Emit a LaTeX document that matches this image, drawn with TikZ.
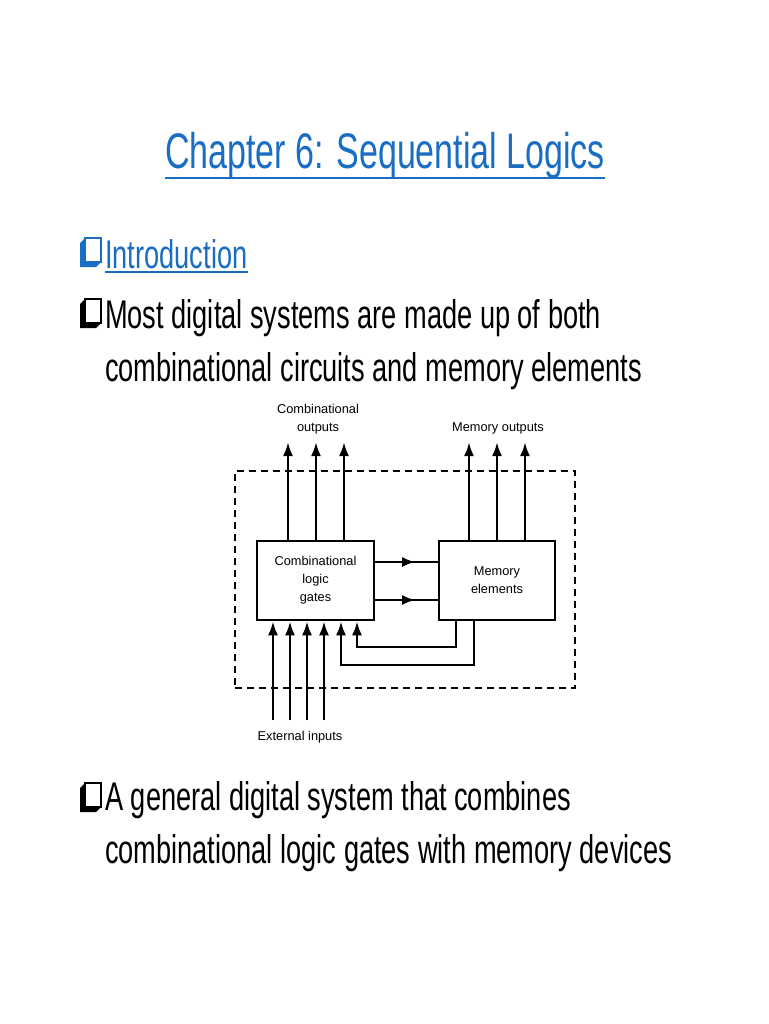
\documentclass[tikz,border=0pt]{standalone}
\usepackage{fontspec}
\setmainfont{Liberation Sans}
\newfontfamily\slidefont[FakeStretch=0.68]{Liberation Sans}
\usetikzlibrary{arrows.meta,decorations.markings}
\definecolor{linkblue}{RGB}{25,110,195}

\begin{document}
\begin{tikzpicture}[x=1pt, y=-1pt,
  slidetext/.style={anchor=base west, inner sep=0pt, font=\slidefont\fontsize{40}{48}\selectfont},
  figtext/.style={font=\fontsize{12.8}{18}\selectfont, align=center, inner sep=0pt},
  block/.style={draw, line width=2.6pt, fill=white, figtext, minimum width=117pt, minimum height=79pt},
  wire/.style={line width=2.6pt},
  arrowwire/.style={wire, -{Latex[length=14pt,width=10pt]}},
  midarrow/.style={wire, decoration={markings, mark=at position 0.64 with {\arrow{Latex[length=13pt,width=10pt]}}}, postaction={decorate}},
  pics/qbullet/.style={code={
    \fill[#1] (5,-29) -- (0,-24) -- (0,0) -- (16,0) -- (21,-5) -- (5,-5) -- cycle;
    \draw[#1, fill=white, line width=2pt] (5,-29) rectangle (21,-5);
  }}
]

  % -- Page --
  \fill[white] (0,0) rectangle (768,1024);
  \useasboundingbox (0,0) rectangle (768,1024);

  % -- Title --
  \node[slidetext, font=\slidefont\fontsize{50}{60}\selectfont, text=linkblue] (title) at (165,169) {Chapter 6: Sequential Logics};
  \draw[linkblue, line width=2.5pt] ([yshift=-9pt]title.base west) -- ([yshift=-9pt]title.base east);

  % -- Bullets --
  \pic at (80,267) {qbullet=linkblue};
  \node[slidetext, text=linkblue] (intro) at (105,268) {Introduction};
  \draw[linkblue, line width=2pt] ([yshift=-4pt]intro.base west) -- ([yshift=-4pt]intro.base east);

  \pic at (80,328) {qbullet=black};
  \node[slidetext] (most1) at (105,328) {Most digital systems are made up of both};
  \node[slidetext] (most2) at (105,381) {combinational circuits and memory elements};

  \pic at (80,812) {qbullet=black};
  \node[slidetext] (gen1) at (105,810) {A general digital system that combines};
  \node[slidetext] (gen2) at (105,863) {combinational logic gates with memory devices};

  % -- Diagram --
  \node[draw, dash pattern=on 7pt off 5pt, line width=1.4pt, minimum width=340pt, minimum height=217pt, inner sep=0pt] (system) at (405,579.5) {};
  \node[block] (comb) at (315.5,580.5) {Combinational\\logic\\gates};
  \node[block, minimum width=116pt] (mem) at (497,580.5) {Memory\\elements};

  \node[figtext] (combout) at (318,419) {Combinational\\outputs};
  \node[figtext] (memout) at (498,428) {Memory outputs};
  \node[figtext] (extin) at (300,737) {External inputs};

  % outputs
  \foreach \x [count=\i] in {288,316,344} {
    \coordinate (cout\i) at (\x,442);
    \draw[arrowwire] (cout\i |- comb.north) -- (cout\i);
  }
  \foreach \x [count=\i] in {469,497,525} {
    \coordinate (mout\i) at (\x,442);
    \draw[arrowwire] (mout\i |- mem.north) -- (mout\i);
  }

  % external inputs
  \foreach \x [count=\i] in {273,290,307,324} {
    \coordinate (ext\i) at (\x,720);
    \draw[arrowwire] (ext\i) -- (ext\i |- comb.south);
  }

  % comb -> memory
  \draw[midarrow] ([yshift=18.5pt]comb.east) -- ([yshift=18.5pt]mem.west);
  \draw[midarrow] ([yshift=-19.5pt]comb.east) -- ([yshift=-19.5pt]mem.west);

  % feedback
  \coordinate (fb1) at (357,647);
  \coordinate (fb2) at (341,665);
  \draw[arrowwire] ([xshift=-41pt]mem.south) |- (fb1) -- (fb1 |- comb.south);
  \draw[arrowwire] ([xshift=-23pt]mem.south) |- (fb2) -- (fb2 |- comb.south);

\end{tikzpicture}
\end{document}
